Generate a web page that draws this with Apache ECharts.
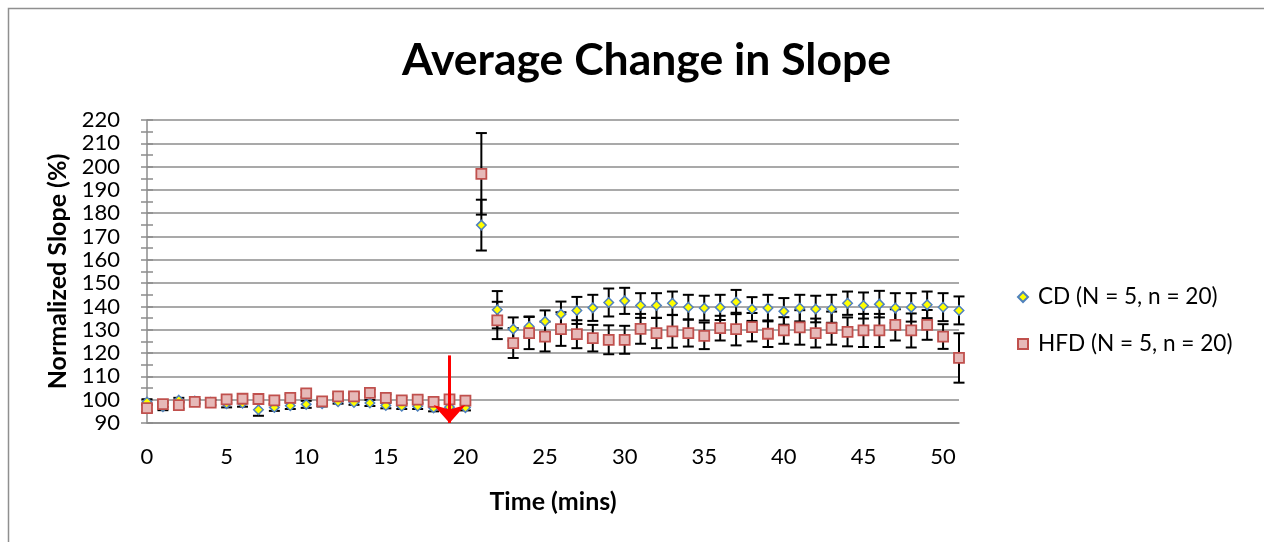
<!DOCTYPE html>
<html>
<head>
<meta charset="utf-8">
<script src="https://cdn.jsdelivr.net/npm/echarts@6/dist/echarts.min.js"></script>
<style>
html,body{margin:0;padding:0;background:#fff;}
#chart{width:1264px;height:542px;}
</style>
</head>
<body>
<div id="chart"></div>
<script>
// ---- data ----
const times = [0,1,2,3,4,5,6,7,8,9,10,11,12,13,14,15,16,17,18,19,20,21,22,23,24,25,26,27,28,29,30,31,32,33,34,35,36,37,38,39,40,41,42,43,44,45,46,47,48,49,50,51];
const cdValues = [99.0,97.0,99.8,99.4,98.9,98.3,98.5,95.7,96.7,97.4,98.0,98.3,99.1,98.8,98.6,97.5,97.2,97.2,96.5,96.8,96.6,
  174.9,138.6,130.3,131.4,133.6,136.7,138.3,139.4,141.7,142.4,140.4,140.4,141.4,139.7,139.3,139.6,141.9,138.9,139.3,137.9,
  139.3,138.9,139.0,141.4,140.4,141.0,139.3,139.6,140.7,139.7,138.3];
const cdErrors = [1.2,1.5,1.0,0.8,1.0,1.6,1.5,2.6,1.5,1.4,1.5,1.2,0.8,1.0,1.3,1.2,1.2,1.2,1.5,1.5,1.2,
  10.9,8.0,5.0,4.3,4.7,5.4,5.8,5.6,6.0,5.6,5.3,5.3,5.0,5.3,5.3,5.4,5.2,5.1,5.7,5.7,
  5.7,5.7,6.0,5.0,5.6,5.7,6.4,6.1,5.7,6.0,6.0];
const hfdValues = [96.4,98.1,97.7,99.1,98.7,100.1,100.4,100.3,99.7,100.8,102.7,99.3,101.4,101.4,102.9,100.8,99.7,100.0,99.1,100.1,99.6,
  196.9,134.0,124.3,128.6,127.1,130.3,128.1,126.4,125.7,125.7,130.4,128.6,129.3,128.6,127.4,130.7,130.3,131.1,128.3,129.7,
  131.0,128.6,130.7,129.1,129.7,129.7,132.1,129.7,132.1,127.1,117.9];
const hfdErrors = [1.5,1.2,1.5,1.0,1.2,1.4,1.3,1.5,1.4,1.5,1.5,1.3,1.2,1.3,1.5,1.5,1.4,1.4,1.5,1.5,1.4,
  17.5,8.0,6.4,6.9,6.4,7.2,6.0,5.7,6.2,6.0,6.4,6.5,7.0,5.8,5.7,5.3,7.0,6.1,5.7,5.7,
  7.4,6.2,7.1,6.2,7.1,7.1,6.7,7.3,6.4,5.3,10.6];
const seriesNames = ['CD (N = 5, n = 20)', 'HFD (N = 5, n = 20)'];
const arrowTime = 19, arrowFrom = 119, arrowTo = 90;
const titleText = 'Average Change in Slope';
const xName = 'Time (mins)', yName = 'Normalized Slope (%)';

// ---- build ----
const FONT = 'Lato';
const GRID_COLOR = '#8c8c8c';
const cdPoints = times.map((t, i) => [t, cdValues[i]]);
const hfdPoints = times.map((t, i) => [t, hfdValues[i]]);
const cdErr = times.map((t, i) => [t, cdValues[i], cdErrors[i]]);
const hfdErr = times.map((t, i) => [t, hfdValues[i], hfdErrors[i]]);

function errorBar(params, api) {
  const x = api.value(0), v = api.value(1), e = api.value(2);
  const top = api.coord([x, v + e]);
  const bot = api.coord([x, v - e]);
  const hw = 5.5;
  const st = { stroke: '#000', lineWidth: 2 };
  return {
    type: 'group',
    children: [
      { type: 'line', shape: { x1: top[0], y1: top[1], x2: bot[0], y2: bot[1] }, style: st },
      { type: 'line', shape: { x1: top[0] - hw, y1: top[1], x2: top[0] + hw, y2: top[1] }, style: st },
      { type: 'line', shape: { x1: bot[0] - hw, y1: bot[1], x2: bot[0] + hw, y2: bot[1] }, style: st }
    ]
  };
}

const chart = echarts.init(document.getElementById('chart'), null, { renderer: 'canvas' });
chart.setOption({
  animation: false,
  backgroundColor: '#fff',
  title: {
    text: titleText,
    left: 397,
    top: 33,
    textStyle: { fontFamily: FONT, fontWeight: 'bold', fontSize: 44.5, color: '#000' }
  },
  graphic: [{
    type: 'rect',
    shape: { x: 8.5, y: 8.5, width: 1300, height: 600 },
    style: { fill: 'none', stroke: '#8f8f8f', lineWidth: 1.5 },
    silent: true
  }],
  legend: {
    orient: 'vertical',
    left: 1012,
    top: 280,
    itemWidth: 10,
    itemHeight: 10,
    itemGap: 23,
    textStyle: { fontFamily: FONT, fontSize: 22.6, color: '#000', lineHeight: 24, padding: [0, 0, 0, 5] },
    data: [
      { name: seriesNames[0], icon: 'diamond' },
      { name: seriesNames[1], icon: 'rect' }
    ]
  },
  grid: { left: 147, right: 305, top: 120, bottom: 119, containLabel: false },
  xAxis: {
    type: 'value',
    min: 0, max: 51, interval: 5,
    name: xName,
    nameLocation: 'middle',
    nameGap: 66,
    nameTextStyle: { fontFamily: FONT, fontWeight: 'bold', fontSize: 25, color: '#000' },
    axisLine: { show: true, lineStyle: { color: GRID_COLOR, width: 1.5 } },
    axisTick: { show: false },
    splitLine: { show: false },
    axisLabel: {
      margin: 23,
      fontFamily: FONT, fontSize: 22, color: '#000',
      formatter: v => (v % 5 === 0 ? String(v) : '')
    }
  },
  yAxis: [{
    type: 'value',
    min: 90, max: 220, interval: 10,
    name: yName,
    nameLocation: 'middle',
    nameGap: 74,
    nameTextStyle: { fontFamily: FONT, fontWeight: 'bold', fontSize: 25, color: '#000' },
    axisLine: { show: true, lineStyle: { color: GRID_COLOR, width: 1.5 } },
    axisTick: { show: true, inside: false, length: 6, lineStyle: { color: GRID_COLOR, width: 1.5 } },
    minorTick: { show: true, splitNumber: 2, length: 6, lineStyle: { color: GRID_COLOR, width: 1.5 } },
    splitLine: { show: true, lineStyle: { color: GRID_COLOR, width: 1.5 } },
    axisLabel: { margin: 27, fontFamily: FONT, fontSize: 22, color: '#000' }
  }, {
    type: 'value',
    min: 90, max: 220, interval: 10,
    position: 'left',
    axisLine: { show: false },
    axisTick: { show: true, inside: true, length: 6, lineStyle: { color: GRID_COLOR, width: 1.5 } },
    minorTick: { show: true, splitNumber: 2, length: 6, lineStyle: { color: GRID_COLOR, width: 1.5 } },
    splitLine: { show: false },
    axisLabel: { show: false }
  }],
  series: [
    {
      type: 'custom', name: 'cdErr', renderItem: errorBar, data: cdErr,
      encode: { x: 0, y: [1] }, z: 1, silent: true, legendHoverLink: false
    },
    {
      type: 'custom', name: 'hfdErr', renderItem: errorBar, data: hfdErr,
      encode: { x: 0, y: [1] }, z: 1, silent: true, legendHoverLink: false
    },
    {
      type: 'scatter', name: seriesNames[0], data: cdPoints, z: 3,
      symbol: 'diamond', symbolSize: 9.5,
      itemStyle: { color: '#ffff00', borderColor: '#4f81bd', borderWidth: 1.5, opacity: 1 }
    },
    {
      type: 'scatter', name: seriesNames[1], data: hfdPoints, z: 4,
      symbol: 'rect', symbolSize: 10,
      itemStyle: { color: '#e6b9b8', borderColor: '#c0504d', borderWidth: 1.8, opacity: 1 },
      markLine: {
        silent: true,
        symbol: ['none', 'arrow'],
        symbolSize: [24, 18],
        label: { show: false },
        lineStyle: { color: '#ff0000', width: 3, type: 'solid' },
        data: [[{ coord: [arrowTime, arrowFrom] }, { coord: [arrowTime, arrowTo] }]]
      }
    }
  ]
});
</script>
</body>
</html>
